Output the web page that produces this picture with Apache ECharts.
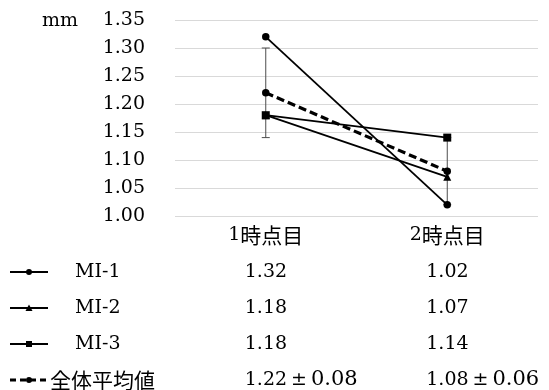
<!DOCTYPE html>
<html>
<head>
<meta charset="utf-8">
<script src="https://cdn.jsdelivr.net/npm/echarts@6/dist/echarts.min.js"></script>
<style>
  html, body { margin: 0; padding: 0; background: #fff; }
  #chart { width: 549px; height: 390px; }
</style>
</head>
<body>
<div id="chart"></div>
<script>
// Measurement at two time points for three subjects, plus the overall mean ± SD
const categories = ['1時点目', '2時点目'];
const mi1 = [1.32, 1.02];
const mi2 = [1.18, 1.07];
const mi3 = [1.18, 1.14];
const meanVals = [1.22, 1.08];
const sdVals = [0.08, 0.06];
const seriesNames = ['MI-1', 'MI-2', 'MI-3', '全体平均値'];
const yMin = 1.00, yMax = 1.35, yStep = 0.05;
const unitLabel = 'mm';

const LATIN = 'DejaVu Serif';
const CJK = 'Noto Sans CJK JP';
const INK = '#000';

const chart = echarts.init(document.getElementById('chart'), null, { renderer: 'canvas' });

// split "1時点目" into the numeral and the Japanese part for mixed-font rendering
function mixedLabel(s) {
  const m = s.match(/^(\d+)(.*)$/);
  return m ? '{n|' + m[1] + '}{j|' + m[2] + '}' : '{j|' + s + '}';
}

const lineBase = {
  type: 'line',
  symbolSize: 7.5,
  lineStyle: { color: INK, width: 1.8 },
  itemStyle: { color: INK },
  emphasis: { disabled: true },
  animation: false,
  z: 3
};

chart.setOption({
  animation: false,
  grid: { left: 175, right: 11, top: 20, bottom: 174 },
  xAxis: {
    type: 'category',
    data: categories,
    boundaryGap: true,
    axisLine: { show: false },
    axisTick: { show: false },
    axisLabel: {
      margin: 9,
      formatter: mixedLabel,
      rich: {
        n: { fontFamily: LATIN, fontSize: 19, color: INK },
        j: { fontFamily: CJK, fontSize: 21, color: INK }
      }
    }
  },
  yAxis: {
    type: 'value',
    min: yMin,
    max: yMax,
    interval: yStep,
    axisLine: { show: false },
    axisTick: { show: false },
    splitLine: { lineStyle: { color: '#d9d9d9', width: 1 } },
    axisLabel: {
      margin: 30,
      fontFamily: LATIN,
      fontSize: 19,
      color: INK,
      formatter: v => v.toFixed(2)
    }
  },
  series: [
    {
      name: 'sd',
      type: 'custom',
      z: 1,
      encode: { x: 0, y: [1, 2] },
      data: meanVals.map((m, i) => [i, m - sdVals[i], m + sdVals[i]]),
      renderItem: function (params, api) {
        const lo = api.coord([api.value(0), api.value(1)]);
        const hi = api.coord([api.value(0), api.value(2)]);
        const cap = 4;
        const st = { stroke: '#4d4d4d', lineWidth: 1 };
        return {
          type: 'group',
          children: [
            { type: 'line', shape: { x1: lo[0], y1: lo[1], x2: hi[0], y2: hi[1] }, style: st },
            { type: 'line', shape: { x1: hi[0] - cap, y1: hi[1], x2: hi[0] + cap, y2: hi[1] }, style: st },
            { type: 'line', shape: { x1: lo[0] - cap, y1: lo[1], x2: lo[0] + cap, y2: lo[1] }, style: st }
          ]
        };
      }
    },
    Object.assign({}, lineBase, { name: seriesNames[0], data: mi1, symbol: 'circle' }),
    Object.assign({}, lineBase, { name: seriesNames[1], data: mi2, symbol: 'triangle', symbolSize: 8 }),
    Object.assign({}, lineBase, { name: seriesNames[2], data: mi3, symbol: 'rect', symbolSize: 8 }),
    Object.assign({}, lineBase, {
      name: seriesNames[3], data: meanVals, symbol: 'circle',
      lineStyle: { color: INK, width: 3.2, type: [8, 4] },
      z: 4
    })
  ]
});

// data table under the plot: legend key, name and values per time point
const rowY = [272, 308, 344, 380];
const seriesData = [mi1, mi2, mi3];
const symbols = ['circle', 'triangle', 'rect', 'circle'];
const colX = categories.map((c, i) => chart.convertToPixel({ xAxisIndex: 0 }, i) - 21);

function keySymbol(kind, cx, cy) {
  const st = { fill: INK };
  if (kind === 'circle') return { type: 'circle', shape: { cx: cx, cy: cy, r: 3 }, style: st };
  if (kind === 'rect') return { type: 'rect', shape: { x: cx - 3, y: cy - 3, width: 6, height: 6 }, style: st };
  return { type: 'polygon', shape: { points: [[cx, cy - 3.5], [cx + 3.5, cy + 3], [cx - 3.5, cy + 3]] }, style: st };
}

const g = [];
// unit label beside the top tick
g.push({ type: 'text', x: 42, y: 21, style: { text: unitLabel, font: '19px "' + LATIN + '"', fill: INK, verticalAlign: 'middle' } });

seriesNames.forEach((name, r) => {
  const y = rowY[r];
  const isMean = r === 3;
  g.push({
    type: 'line',
    shape: { x1: 10, y1: y, x2: 48, y2: y },
    style: isMean ? { stroke: INK, lineWidth: 3, lineDash: [6, 4] } : { stroke: INK, lineWidth: 1.8 }
  });
  g.push(keySymbol(symbols[r], 29, y));
  g.push({
    type: 'text',
    x: isMean ? 50 : 75,
    y: y,
    style: {
      text: name,
      font: isMean ? '21px "' + CJK + '"' : '19px "' + LATIN + '"',
      fill: INK,
      verticalAlign: 'middle'
    }
  });
  categories.forEach((c, i) => {
    let txt, rich;
    if (isMean) {
      txt = '{a|' + meanVals[i].toFixed(2) + '}{p|±}{b|' + sdVals[i].toFixed(2) + '}';
      rich = {
        a: { font: '19px "' + LATIN + '"', fill: INK },
        p: { font: '19px "' + LATIN + '"', fill: INK, padding: [0, 4, 0, 4] },
        b: { font: '21px "' + LATIN + '"', fill: INK }
      };
    } else {
      txt = seriesData[r][i].toFixed(2);
    }
    g.push({
      type: 'text',
      x: colX[i],
      y: y,
      style: Object.assign({
        text: txt,
        font: '19px "' + LATIN + '"',
        fill: INK,
        verticalAlign: 'middle'
      }, rich ? { rich: rich } : {})
    });
  });
});

chart.setOption({ graphic: g });
</script>
</body>
</html>
